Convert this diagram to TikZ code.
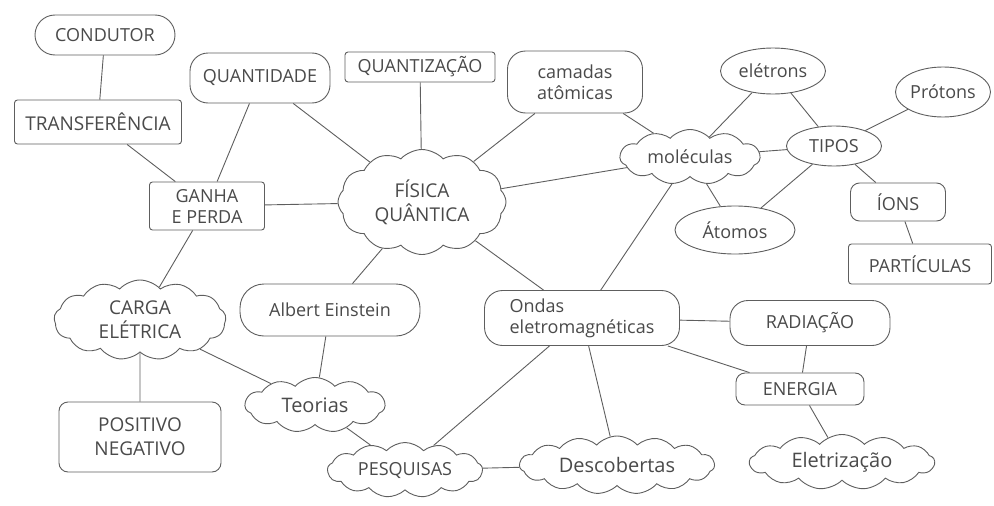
\documentclass[tikz,border=0pt]{standalone}
\usepackage{fontspec}
\setmainfont{Open Sans}
\usetikzlibrary{shapes.geometric,shapes.symbols,shapes.misc}
\definecolor{pencil}{HTML}{5E5E5E}
\definecolor{lead}{HTML}{4A4A4A}
\tikzset{
  box/.style={draw=pencil, line width=0.9pt, inner sep=0pt, fill=white},
  rectbox/.style={box, rectangle, rounded corners=3pt},
  softbox/.style={box, rectangle, rounded corners=9pt},
  blobbox/.style={box, rectangle, rounded corners=18pt},
  stadium/.style={box, rounded rectangle},
  ovalbox/.style={box, ellipse},
  cloudbox/.style={box, cloud, cloud puffs=13, cloud puff arc=95, cloud ignores aspect},
  txt/.style={text=lead, align=center, font=\fontsize{18}{21}\selectfont, inner sep=0pt},
  bigtxt/.style={txt, font=\fontsize{20}{24}\selectfont},
  link/.style={draw=pencil, line width=0.9pt},
}
\begin{document}
\begin{tikzpicture}[x=1pt,y=-1pt]
\useasboundingbox (0,0) rectangle (994,506);

% concept nodes
\node[stadium, minimum width=140, minimum height=40, label={[txt]center:CONDUTOR}] (cond) at (105,35) {};
\node[rectbox, minimum width=167, minimum height=44, label={[txt, font=\fontsize{19}{22}\selectfont]center:TRANSFERÊNCIA}] (trans) at (98,122) {};
\node[blobbox, minimum width=140, minimum height=50, label={[txt]center:QUANTIDADE}] (qtd) at (260,78) {};
\node[rectbox, minimum width=150, minimum height=30, label={[txt]center:QUANTIZAÇÃO}] (qtz) at (420,67) {};
\node[blobbox, minimum width=135, minimum height=62, label={[txt]center:{camadas\\atômicas}}] (cam) at (575,82) {};
\node[rectbox, minimum width=115, minimum height=48, label={[txt]center:{GANHA\\E PERDA}}] (ganha) at (207,206) {};
\node[cloudbox, cloud puffs=12, minimum width=168, minimum height=105, label={[txt, font=\fontsize{19}{24}\selectfont]center:{FÍSICA\\QUÂNTICA}}] (fis) at (422,202) {};
\node[cloudbox, cloud puffs=11, minimum width=140, minimum height=55, label={[txt]center:moléculas}] (mol) at (690,157) {};
\node[ovalbox, minimum width=105, minimum height=46, label={[txt]center:elétrons}] (elet) at (773,71) {};
\node[ovalbox, minimum width=95, minimum height=40, label={[txt]center:TIPOS}] (tipos) at (834,146) {};
\node[ovalbox, minimum width=95, minimum height=50, label={[txt]center:Prótons}] (prot) at (943,92) {};
\node[softbox, minimum width=95, minimum height=38, label={[txt]center:ÍONS}] (ions) at (898,202) {};
\node[rectbox, minimum width=143, minimum height=40, label={[txt]center:PARTÍCULAS}] (part) at (920,264) {};
\node[ovalbox, minimum width=120, minimum height=48, label={[txt]center:Átomos}] (atom) at (735,230) {};
\node[cloudbox, minimum width=172, minimum height=80, label={[txt, font=\fontsize{19}{24}\selectfont]center:{CARGA\\ELÉTRICA}}] (carga) at (140,320) {};
\node[blobbox, rounded corners=24pt, minimum width=180, minimum height=52, label={[txt]center:Albert Einstein}] (alb) at (330,310) {};
\node[cloudbox, cloud puffs=11, minimum width=140, minimum height=55, label={[bigtxt]center:Teorias}] (teo) at (315,405) {};
\node[softbox, minimum width=162, minimum height=70, label={[txt, font=\fontsize{19}{24}\selectfont]center:{POSITIVO\\NEGATIVO}}] (pos) at (140,437) {};
\node[blobbox, minimum width=195, minimum height=55, label={[txt, align=left]center:{Ondas\\eletromagnéticas}}] (ondas) at (582,318) {};
\node[blobbox, minimum width=160, minimum height=45, label={[txt]center:RADIAÇÃO}] (rad) at (810,323) {};
\node[softbox, minimum width=128, minimum height=32, label={[txt]center:ENERGIA}] (ener) at (800,389) {};
\node[cloudbox, minimum width=185, minimum height=55, label={[bigtxt]center:Eletrização}] (eletz) at (842,462) {};
\node[cloudbox, minimum width=155, minimum height=55, label={[txt]center:PESQUISAS}] (pesq) at (405,470) {};
\node[cloudbox, cloud puffs=15, minimum width=195, minimum height=58, label={[bigtxt]center:Descobertas}] (desc) at (617,465) {};

% connections
\path[link]
  (cond) -- (trans)
  (trans) -- (ganha)
  (qtd) -- (ganha)
  (qtd) -- (fis)
  (qtz) -- (fis)
  (ganha) -- (fis)
  (cam) -- (fis)
  (cam) -- (mol)
  (fis) -- (mol)
  (mol) -- (elet)
  (mol) -- (tipos)
  (mol) -- (atom)
  (mol) -- (ondas)
  (elet) -- (tipos)
  (tipos) -- (prot)
  (tipos) -- (ions)
  (tipos) -- (atom)
  (ions) -- (part)
  (ganha) -- (carga)
  (fis) -- (alb)
  (fis) -- (ondas)
  (carga) -- (pos)
  (carga) -- (teo)
  (alb) -- (teo)
  (teo) -- (pesq)
  (ondas) -- (pesq)
  (ondas) -- (desc)
  (ondas) -- (rad)
  (ondas) -- (ener)
  (rad) -- (ener)
  (ener) -- (eletz)
  (pesq) -- (desc);
\end{tikzpicture}
\end{document}
